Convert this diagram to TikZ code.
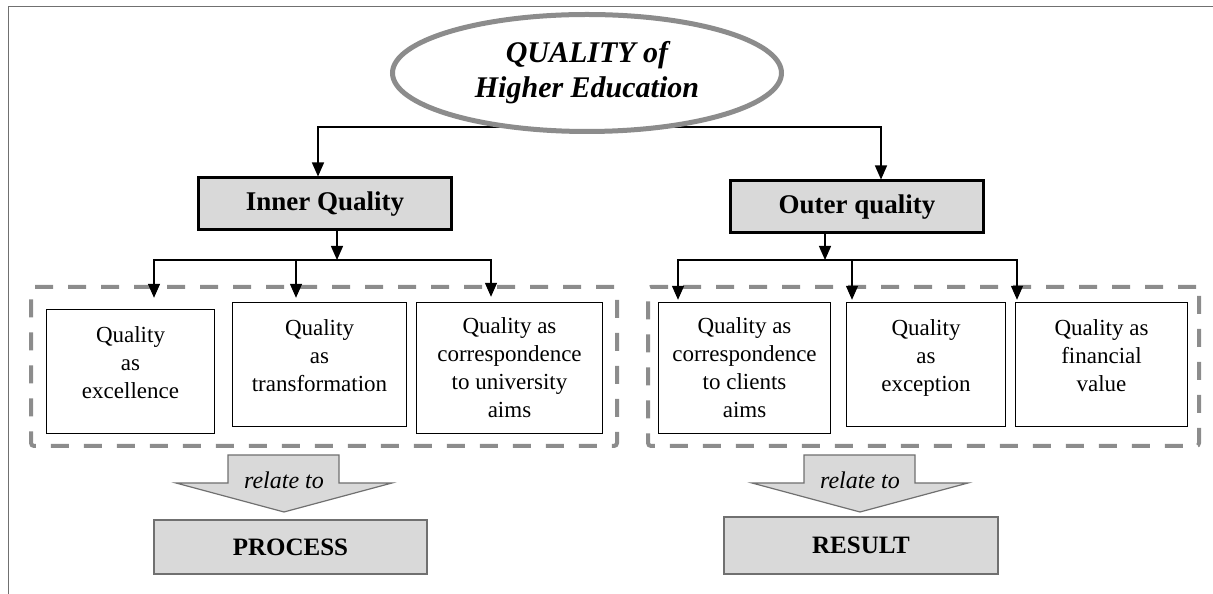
\documentclass[tikz,border=0pt]{standalone}
\usepackage{fontspec}
\setmainfont{Liberation Serif}
\usetikzlibrary{arrows.meta, positioning, shapes.geometric, backgrounds}
\definecolor{cFill}{HTML}{D9D9D9}
\definecolor{cRing}{HTML}{8C8C8C}
\definecolor{cEdge}{HTML}{707070}

\begin{document}
\begin{tikzpicture}[x=1pt, y=1pt,
  every node/.style={inner sep=0pt},
  qbox/.style={draw, line width=1.4pt, fill=white, align=center,
               font=\fontsize{23}{28}\selectfont},
  lift/.style={qbox, text depth=18pt},
  headbox/.style={draw, line width=3pt, fill=cFill, minimum width=253pt,
                  minimum height=52pt, font=\fontsize{27}{30}\selectfont\bfseries},
  endbox/.style={draw=cEdge, line width=1.5pt, fill=cFill,
                 font=\fontsize{25}{28}\selectfont\bfseries},
  grp/.style={draw=cRing, line width=4pt, dash pattern=on 18pt off 15pt, rounded corners=3pt},
  relarr/.style={draw=cEdge, line width=1.2pt, fill=cFill},
  arr/.style={-{Triangle[length=14pt, width=12pt]}, line width=1.3pt}]
\useasboundingbox (0,0) rectangle (1213,594);
\draw[cEdge, line width=1pt] (1213,587) -- (8,587) -- (8,0);

% root and the two kinds of quality
\node[ellipse, draw=cRing, line width=5pt, fill=white, minimum width=389pt,
      minimum height=117pt, align=center,
      font=\fontsize{30}{35}\selectfont\bfseries\itshape] (qhe) at (587,521)
      {QUALITY of\\Higher Education};
\node[headbox] (inner) at (325,390) {Inner Quality};
\node[headbox] (outer) at (857,387) {Outer quality};

% dashed groups
\node[grp, minimum width=586pt, minimum height=159pt] (lgrp) at (324,227.5) {};
\node[grp, minimum width=551pt, minimum height=159pt] (rgrp) at (923.5,227.5) {};

% inner quality boxes
\node[lift, minimum width=168pt, minimum height=124pt] (ex) at (130.5,222.5) {Quality\\as\\excellence};
\node[lift, minimum width=174pt, minimum height=124pt] (tr) at (319.5,229.5) {Quality\\as\\transformation};
\node[qbox, minimum width=186pt, minimum height=131pt] (uni) at (509.5,226) {Quality as\\correspondence\\to university\\aims};
% outer quality boxes
\node[qbox, minimum width=172pt, minimum height=131pt] (cli) at (744.5,226) {Quality as\\correspondence\\to clients\\aims};
\node[lift, minimum width=159pt, minimum height=124pt] (exc) at (926,229.5) {Quality\\as\\exception};
\node[lift, minimum width=172pt, minimum height=124pt] (fin) at (1101.5,229.5) {Quality as\\financial\\value};

% connectors
\begin{scope}[on background layer]
\draw[arr] ([yshift=7pt]qhe.south) -| ([xshift=-7pt]inner.north);
\draw[arr] ([yshift=7pt]qhe.south) -| ([xshift=24pt]outer.north);
\end{scope}
\coordinate (ib) at (337,334);
\coordinate (ob) at (825,334);
\draw[arr] ([xshift=12pt]inner.south) -- (ib);
\draw[arr] ([xshift=-32pt]outer.south) -- (ob);
\foreach \b/\dx/\gap in {ex/23.5/11, tr/-23.5/4, uni/-18.5/5}
  \draw[arr, shorten >=\gap pt] (ib) -| ([xshift=\dx pt]\b.north);
\foreach \b/\dx in {cli/-66.5, exc/-74, fin/-84.5}
  \draw[arr, shorten >=2pt] (ob) -| ([xshift=\dx pt]\b.north);

% relate-to arrows and what they lead to
\foreach \cx/\nm in {284/rp, 860/rr} {
  \draw[relarr] (\cx-56,139) -- (\cx+55,139) -- (\cx+55,111) -- (\cx+108,111)
    -- (\cx,82) -- (\cx-108,111) -- (\cx-56,111) -- cycle;
  \node[font=\fontsize{24}{26}\selectfont\itshape] (\nm) at (\cx,114) {relate to};
}
\node[endbox, minimum width=273pt, minimum height=54pt] (proc) at (290.5,47) {PROCESS};
\node[endbox, minimum width=274pt, minimum height=57pt] (res) at (861,48.5) {RESULT};
\end{tikzpicture}
\end{document}
